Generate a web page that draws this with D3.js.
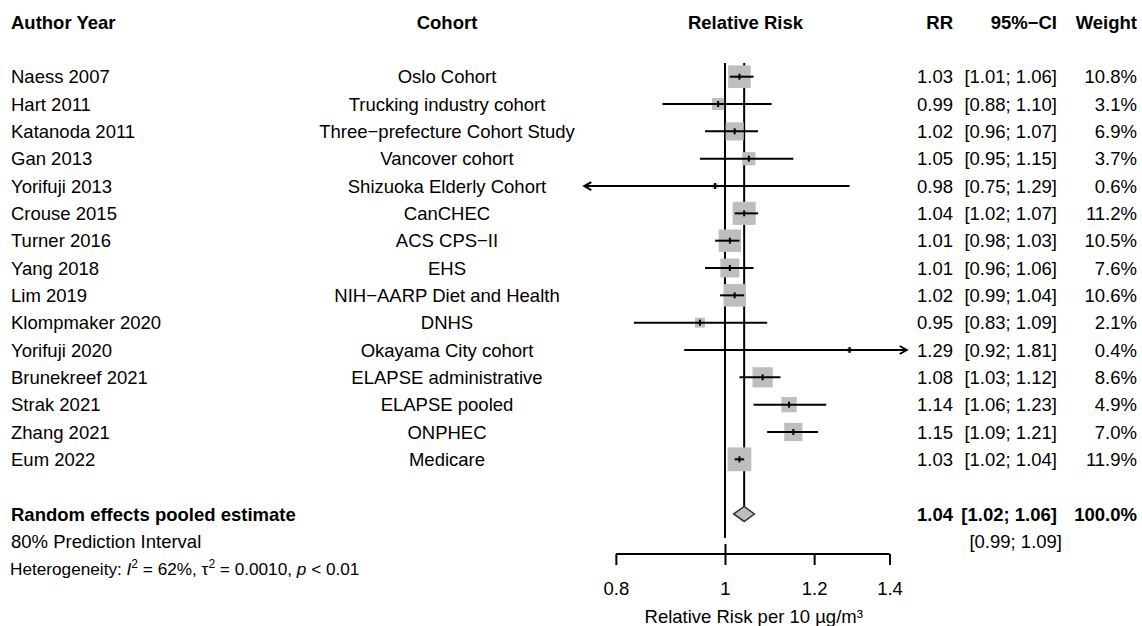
<!DOCTYPE html>
<html>
<head>
<meta charset="utf-8">
<script src="https://cdn.jsdelivr.net/npm/d3@7"></script>
<style>
body { margin: 0; background: #fff; }
text { font-family: "Liberation Sans", Arial, sans-serif; fill: #000; }
</style>
</head>
<body>
<script>
// study data
var authors = ["Naess 2007", "Hart 2011", "Katanoda 2011", "Gan 2013", "Yorifuji 2013",
    "Crouse 2015", "Turner 2016", "Yang 2018", "Lim 2019", "Klompmaker 2020",
    "Yorifuji 2020", "Brunekreef 2021", "Strak 2021", "Zhang 2021", "Eum 2022"];
var cohorts = ["Oslo Cohort", "Trucking industry cohort", "Three\u2212prefecture Cohort Study",
    "Vancover cohort", "Shizuoka Elderly Cohort", "CanCHEC", "ACS CPS\u2212II", "EHS",
    "NIH\u2212AARP Diet and Health", "DNHS", "Okayama City cohort", "ELAPSE administrative",
    "ELAPSE pooled", "ONPHEC", "Medicare"];
var rr     = [1.03, 0.986, 1.02, 1.05, 0.98, 1.04, 1.01, 1.01, 1.02, 0.95, 1.29, 1.08, 1.14, 1.15, 1.03];
var lower  = [1.01, 0.88, 0.96, 0.95, 0.748, 1.02, 0.98, 0.96, 0.99, 0.83, 0.92, 1.03, 1.06, 1.09, 1.02];
var upper  = [1.06, 1.10, 1.07, 1.15, 1.29, 1.07, 1.03, 1.06, 1.04, 1.09, 1.81, 1.12, 1.23, 1.21, 1.04];
var weight = [10.8, 3.1, 6.9, 3.7, 0.6, 11.2, 10.5, 7.6, 10.6, 2.1, 0.4, 8.6, 4.9, 7.0, 11.9];

var pooledRR = 1.04;
var pooledCI = [1.018, 1.062];
var pooledWeight = 100;
var predInt = [0.99, 1.09];
var hetI2 = "62%", hetTau2 = "0.0010", hetP = "0.01";

var xLimits = [0.75, 1.45];
var xTicks = [0.8, 1, 1.2, 1.4];
var xTickLabels = ["0.8", "1", "1.2", "1.4"];

var W = 1142, H = 626;
var fs = 18.5;

var svg = d3.select("body").append("svg")
    .attr("width", W)
    .attr("height", H);

var x = d3.scaleLog().domain(xLimits).range([584.3, 906.7]);
var row = d3.scaleLinear().domain([0, 1]).range([76.7, 104.03]);
var side = d3.scaleSqrt().domain([0, 11.9]).range([0, 23.8]);

// reference lines (no effect and pooled estimate)
svg.append("line")
    .attr("x1", x(1)).attr("x2", x(1))
    .attr("y1", row(-0.5)).attr("y2", row(16) + 24)
    .attr("stroke", "#000").attr("stroke-width", 2);
svg.append("line")
    .attr("x1", x(pooledRR)).attr("x2", x(pooledRR))
    .attr("y1", row(-0.5)).attr("y2", row(16) - 7.5)
    .attr("stroke", "#000").attr("stroke-width", 2);

var idx = d3.range(authors.length);

// squares
svg.selectAll("rect.box")
    .data(idx)
    .enter().append("rect")
    .attr("class", "box")
    .attr("x", function(i) { return x(rr[i]) - side(weight[i]) / 2; })
    .attr("y", function(i) { return row(i) - side(weight[i]) / 2; })
    .attr("width", function(i) { return side(weight[i]); })
    .attr("height", function(i) { return side(weight[i]); })
    .attr("fill", "#bebebe");

// CI lines, clipped to the x limits
function clip(v) { return Math.max(xLimits[0], Math.min(xLimits[1], v)); }
svg.selectAll("line.ci")
    .data(idx)
    .enter().append("line")
    .attr("class", "ci")
    .attr("x1", function(i) { return x(clip(lower[i])); })
    .attr("x2", function(i) { return x(clip(upper[i])); })
    .attr("y1", function(i) { return row(i); })
    .attr("y2", function(i) { return row(i); })
    .attr("stroke", "#000").attr("stroke-width", 2);

// point estimate tick
svg.selectAll("line.pt")
    .data(idx)
    .enter().append("line")
    .attr("class", "pt")
    .attr("x1", function(i) { return x(rr[i]); })
    .attr("x2", function(i) { return x(rr[i]); })
    .attr("y1", function(i) { return row(i) - 3; })
    .attr("y2", function(i) { return row(i) + 3; })
    .attr("stroke", "#000").attr("stroke-width", 2);

// arrows where CI runs past the limits
idx.forEach(function(i) {
    var y = row(i);
    if (lower[i] < xLimits[0]) {
        var x0 = x(xLimits[0]);
        svg.append("path")
            .attr("d", "M" + (x0 + 7) + "," + (y - 4) + "L" + x0 + "," + y + "L" + (x0 + 7) + "," + (y + 4))
            .attr("fill", "none").attr("stroke", "#000").attr("stroke-width", 2);
    }
    if (upper[i] > xLimits[1]) {
        var x1 = x(xLimits[1]);
        svg.append("path")
            .attr("d", "M" + (x1 - 7) + "," + (y - 4) + "L" + x1 + "," + y + "L" + (x1 - 7) + "," + (y + 4))
            .attr("fill", "none").attr("stroke", "#000").attr("stroke-width", 2);
    }
});

// pooled diamond
var py = row(16);
svg.append("path")
    .attr("d", "M" + x(pooledCI[0]) + "," + py +
        "L" + x(pooledRR) + "," + (py - 7.5) +
        "L" + x(pooledCI[1]) + "," + py +
        "L" + x(pooledRR) + "," + (py + 7.5) + "Z")
    .attr("fill", "#bebebe").attr("stroke", "#333").attr("stroke-width", 1.5);

// x axis
var axisY = 554;
var axis = svg.append("g")
    .attr("transform", "translate(0," + axisY + ")")
    .call(d3.axisBottom(x)
        .tickValues(xTicks)
        .tickFormat(function(d, i) { return xTickLabels[i]; })
        .tickSize(11)
        .tickSizeOuter(0)
        .tickPadding(17));
axis.select(".domain").remove();
axis.append("line")
    .attr("x1", x(xTicks[0])).attr("x2", x(xTicks[xTicks.length - 1]))
    .attr("stroke", "#000").attr("stroke-width", 2);
axis.selectAll(".tick line").attr("stroke", "#000").attr("stroke-width", 2);
axis.selectAll(".tick").filter(function(d) { return d === 1; })
    .select("line").attr("y1", -10);
axis.selectAll(".tick text")
    .attr("font-family", "Liberation Sans, Arial, sans-serif")
    .attr("font-size", fs).attr("fill", "#000");
svg.append("text")
    .attr("x", (x(0.8) + x(1.4)) / 2 + 1)
    .attr("y", 623)
    .attr("text-anchor", "middle")
    .attr("font-size", fs)
    .text("Relative Risk per 10 \u00b5g/m\u00b3");

// columns
var colAuthor = 11, colCohort = 447, colRR = 953, colCI = 1057, colW = 1137;

function label(xp, yRow, txt, anchor, bold, size) {
    return svg.append("text")
        .attr("x", xp)
        .attr("y", row(yRow) + (size || fs) * 0.355)
        .attr("text-anchor", anchor)
        .attr("font-size", size || fs)
        .attr("font-weight", bold ? "bold" : null)
        .text(txt);
}

// header
label(colAuthor, -2, "Author Year", "start", true);
label(colCohort, -2, "Cohort", "middle", true);
label(x(Math.sqrt(xLimits[0] * xLimits[1])), -2, "Relative Risk", "middle", true);
label(colRR, -2, "RR", "end", true);
label(colCI, -2, "95%\u2212CI", "end", true);
label(colW, -2, "Weight", "end", true);

function ciText(a, b) { return "[" + a.toFixed(2) + "; " + b.toFixed(2) + "]"; }

idx.forEach(function(i) {
    label(colAuthor, i, authors[i], "start");
    label(colCohort, i, cohorts[i], "middle");
    label(colRR, i, rr[i].toFixed(2), "end");
    label(colCI, i, ciText(lower[i], upper[i]), "end");
    label(colW, i, weight[i].toFixed(1) + "%", "end");
});

label(colAuthor, 16, "Random effects pooled estimate", "start", true);
label(colRR, 16, pooledRR.toFixed(2), "end", true);
label(colCI, 16, ciText(pooledCI[0], pooledCI[1]), "end", true);
label(colW, 16, pooledWeight.toFixed(1) + "%", "end", true);

label(colAuthor, 17, "80% Prediction Interval", "start");
label(colCI + 5, 17, ciText(predInt[0], predInt[1]), "end");

// heterogeneity line
var hs = 17.2;
var het = label(colAuthor - 1, 18, "", "start", false, hs);
het.append("tspan").text("Heterogeneity: ");
het.append("tspan").attr("font-style", "italic").text("I");
het.append("tspan").attr("font-size", hs * 0.7).attr("dy", -7).text("2");
het.append("tspan").attr("dy", 7).text(" = " + hetI2 + ", \u03c4");
het.append("tspan").attr("font-size", hs * 0.7).attr("dy", -7).text("2");
het.append("tspan").attr("dy", 7).text(" = " + hetTau2 + ", ");
het.append("tspan").attr("font-style", "italic").text("p");
het.append("tspan").text(" < " + hetP);
</script>
</body>
</html>
